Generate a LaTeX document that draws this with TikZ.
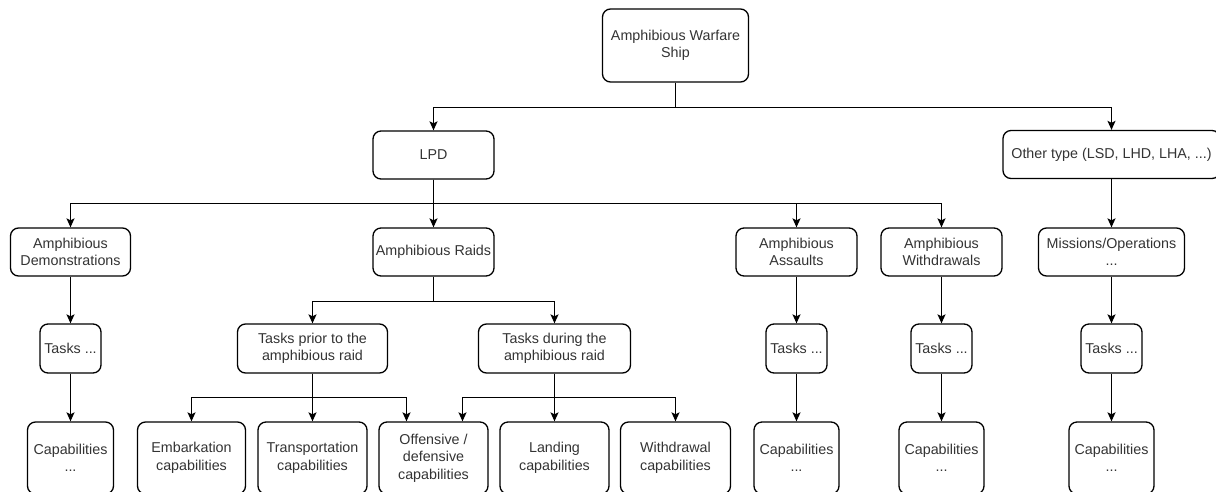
\documentclass[tikz,border=0pt]{standalone}
\usepackage{fontspec}
\setmainfont{Liberation Sans}
\usetikzlibrary{arrows.meta}
\definecolor{txt}{HTML}{333333}
\tikzset{
  box/.style={draw=black, line width=1.3pt, rounded corners=8pt, align=center,
    font=\fontsize{14.3}{17.5}\selectfont, text=txt, inner sep=0pt, minimum height=48pt},
  capbox/.style={box, minimum height=72pt},
  arr/.style={draw=black, line width=1.3pt, -{Stealth[length=9pt,width=8pt,inset=2pt]}},
  conn/.style={draw=black, line width=1.3pt}
}
\begin{document}
\begin{tikzpicture}[x=1pt,y=-1pt]
\useasboundingbox (0,0) rectangle (1216,491);
\clip (0,0) rectangle (1216,491);
% level 0
\node[box, minimum width=146pt, minimum height=73pt] (ship) at (675.5,45.5) {Amphibious Warfare\\Ship};
% level 1
\node[box, minimum width=121pt] (lpd) at (433.5,155) {LPD};
\node[box, minimum width=217pt] (other) at (1111.5,154.5) {Other type (LSD, LHD, LHA, ...)};
% level 2
\node[box, minimum width=120pt] (demo) at (70.5,252) {Amphibious\\Demonstrations};
\node[box, minimum width=121pt] (raids) at (433.5,252) {Amphibious Raids};
\node[box, minimum width=121pt] (assaults) at (796.5,252) {Amphibious\\Assaults};
\node[box, minimum width=121pt] (withdrawals) at (941.5,252) {Amphibious\\Withdrawals};
\node[box, minimum width=146pt] (missions) at (1111.5,252) {Missions/Operations\\...};
% level 3
\node[box, minimum width=61pt, minimum height=49pt] (tdemo) at (70.5,348.5) {Tasks ...};
\node[box, minimum width=150pt, minimum height=49pt] (prior) at (312.5,348.5) {Tasks prior to the\\amphibious raid};
\node[box, minimum width=152pt, minimum height=49pt] (during) at (554.5,348.5) {Tasks during the\\amphibious raid};
\node[box, minimum width=61pt, minimum height=49pt] (tassault) at (796.5,348.5) {Tasks ...};
\node[box, minimum width=61pt, minimum height=49pt] (twithdraw) at (941.5,348.5) {Tasks ...};
\node[box, minimum width=61pt, minimum height=49pt] (tother) at (1111.5,348.5) {Tasks ...};
% level 4
\node[capbox, minimum width=86pt] (cdemo) at (70.5,458) {Capabilities\\...};
\node[capbox, minimum width=108pt] (embark) at (191.5,458) {Embarkation\\capabilities};
\node[capbox, minimum width=109pt] (transport) at (312.5,458) {Transportation\\capabilities};
\node[capbox, minimum width=109pt] (offensive) at (433.5,458) {Offensive /\\defensive\\capabilities};
\node[capbox, minimum width=109pt] (landing) at (554.5,458) {Landing\\capabilities};
\node[capbox, minimum width=110pt] (wcap) at (675.5,458) {Withdrawal\\capabilities};
\node[capbox, minimum width=85pt] (cassault) at (796.5,458) {Capabilities\\...};
\node[capbox, minimum width=85pt] (cwithdraw) at (941.5,458) {Capabilities\\...};
\node[capbox, minimum width=85pt] (cother) at (1111.5,458) {Capabilities\\...};
% connectors
\draw[arr] (ship.south) -- +(0,25) -| (lpd.north);
\draw[arr] (ship.south) -- +(0,25) -| (other.north);
\draw[arr] (lpd.south) -- +(0,24) -| (demo.north);
\draw[arr] (lpd.south) -- (raids.north);
\draw[arr] (lpd.south) -- +(0,24) -| (assaults.north);
\draw[arr] (lpd.south) -- +(0,24) -| (withdrawals.north);
\draw[arr] (other.south) -- (missions.north);
\draw[arr] (demo.south) -- (tdemo.north);
\draw[arr] (tdemo.south) -- (cdemo.north);
\draw[arr] (raids.south) -- +(0,25) -| (prior.north);
\draw[arr] (raids.south) -- +(0,25) -| (during.north);
\draw[arr] (prior.south) -- +(0,24) -| (embark.north);
\draw[arr] (prior.south) -- (transport.north);
\draw[arr] (prior.south) -- +(0,24) -| ([xshift=-27pt]offensive.north);
\draw[arr] (during.south) -- +(0,24) -| ([xshift=29pt]offensive.north);
\draw[arr] (during.south) -- (landing.north);
\draw[arr] (during.south) -- +(0,24) -| (wcap.north);
\draw[arr] (assaults.south) -- (tassault.north);
\draw[arr] (tassault.south) -- (cassault.north);
\draw[arr] (withdrawals.south) -- (twithdraw.north);
\draw[arr] (twithdraw.south) -- (cwithdraw.north);
\draw[arr] (missions.south) -- (tother.north);
\draw[arr] (tother.south) -- (cother.north);
\end{tikzpicture}
\end{document}
